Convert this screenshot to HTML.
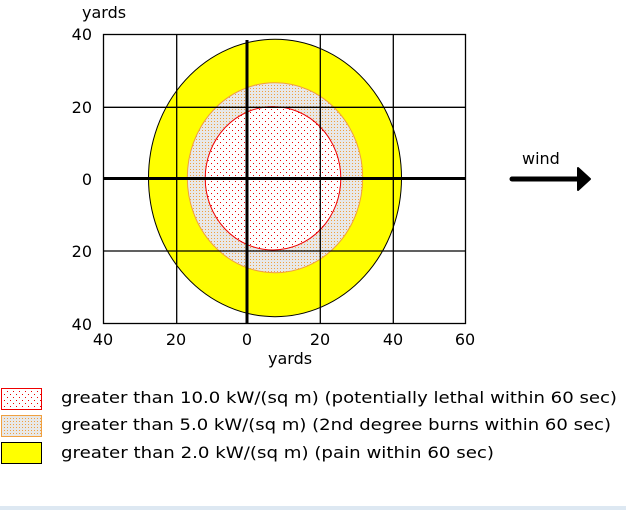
<!DOCTYPE html>
<html><head><meta charset="utf-8"><style>
html,body{margin:0;padding:0;background:#fff;}
svg{display:block;font-family:"DejaVu Sans","Liberation Sans",sans-serif;}
</style></head><body>
<svg width="626" height="510" viewBox="0 0 626 510" xmlns="http://www.w3.org/2000/svg">
<defs>
<pattern id="pr" width="6" height="6" patternUnits="userSpaceOnUse"><rect width="6" height="6" fill="#fff"/><rect x="1" y="1" width="1" height="1" fill="#e00"/><rect x="4" y="4" width="1" height="1" fill="#e00"/></pattern>
<pattern id="po" width="3" height="3" patternUnits="userSpaceOnUse"><rect width="3" height="3" fill="#e8e8e8"/><rect x="1" y="1" width="1" height="1" fill="#f0a040"/></pattern>
</defs>
<rect x="0" y="0" width="626" height="510" fill="#fff"/>
<rect x="0" y="506" width="626" height="4" fill="#dde8f2"/>
<rect x="103.5" y="34.5" width="362" height="289" fill="#fff" stroke="#000" stroke-width="1.3"/>
<ellipse cx="275" cy="178" rx="126.5" ry="138.7" fill="#ffff00" stroke="#000" stroke-width="1"/>
<ellipse cx="275" cy="177.7" rx="87.7" ry="95" fill="url(#po)" stroke="#f0a040" stroke-width="1"/>
<ellipse cx="273" cy="178.3" rx="67.8" ry="71.7" fill="url(#pr)" stroke="#e00" stroke-width="1"/>
<g stroke="#000" stroke-width="1.3">
<line x1="176.7" y1="34" x2="176.7" y2="324"/>
<line x1="320.3" y1="34" x2="320.3" y2="324"/>
<line x1="393.3" y1="34" x2="393.3" y2="324"/>
<line x1="103" y1="107.3" x2="466" y2="107.3"/>
<line x1="103" y1="251" x2="466" y2="251"/>
</g>
<line x1="247" y1="40" x2="247" y2="324" stroke="#000" stroke-width="3"/>
<line x1="103" y1="178.5" x2="466" y2="178.5" stroke="#000" stroke-width="3"/>
<g font-size="16" fill="#000">
<text x="82" y="18">yards</text>
<text x="92" y="40" text-anchor="end">40</text>
<text x="92" y="113" text-anchor="end">20</text>
<text x="92" y="185" text-anchor="end">0</text>
<text x="92" y="257" text-anchor="end">20</text>
<text x="92" y="330" text-anchor="end">40</text>
<text x="103" y="345" text-anchor="middle">40</text>
<text x="176" y="345" text-anchor="middle">20</text>
<text x="247" y="345" text-anchor="middle">0</text>
<text x="320" y="345" text-anchor="middle">20</text>
<text x="393" y="345" text-anchor="middle">40</text>
<text x="465" y="345" text-anchor="middle">60</text>
<text x="268" y="364">yards</text>
<text x="522" y="164">wind</text>
</g>
<line x1="512" y1="179" x2="580" y2="179" stroke="#000" stroke-width="5" stroke-linecap="round"/>
<polygon points="578,168 590,179 578,190" fill="#000" stroke="#000" stroke-width="2" stroke-linejoin="round"/>
<rect x="1.5" y="388.5" width="40" height="21" fill="url(#pr)" stroke="#e00" stroke-width="1"/>
<rect x="1.5" y="415.5" width="40" height="21" fill="url(#po)" stroke="#f0a040" stroke-width="1"/>
<rect x="1.5" y="442.5" width="40" height="21" fill="#ffff00" stroke="#000" stroke-width="1"/>
<g font-size="16" fill="#000">
<text x="61" y="403" textLength="556" lengthAdjust="spacingAndGlyphs">greater than 10.0 kW/(sq m) (potentially lethal within 60 sec)</text>
<text x="61" y="430" textLength="550" lengthAdjust="spacingAndGlyphs">greater than 5.0 kW/(sq m) (2nd degree burns within 60 sec)</text>
<text x="61" y="458" textLength="433" lengthAdjust="spacingAndGlyphs">greater than 2.0 kW/(sq m) (pain within 60 sec)</text>
</g>
</svg>
</body></html>
